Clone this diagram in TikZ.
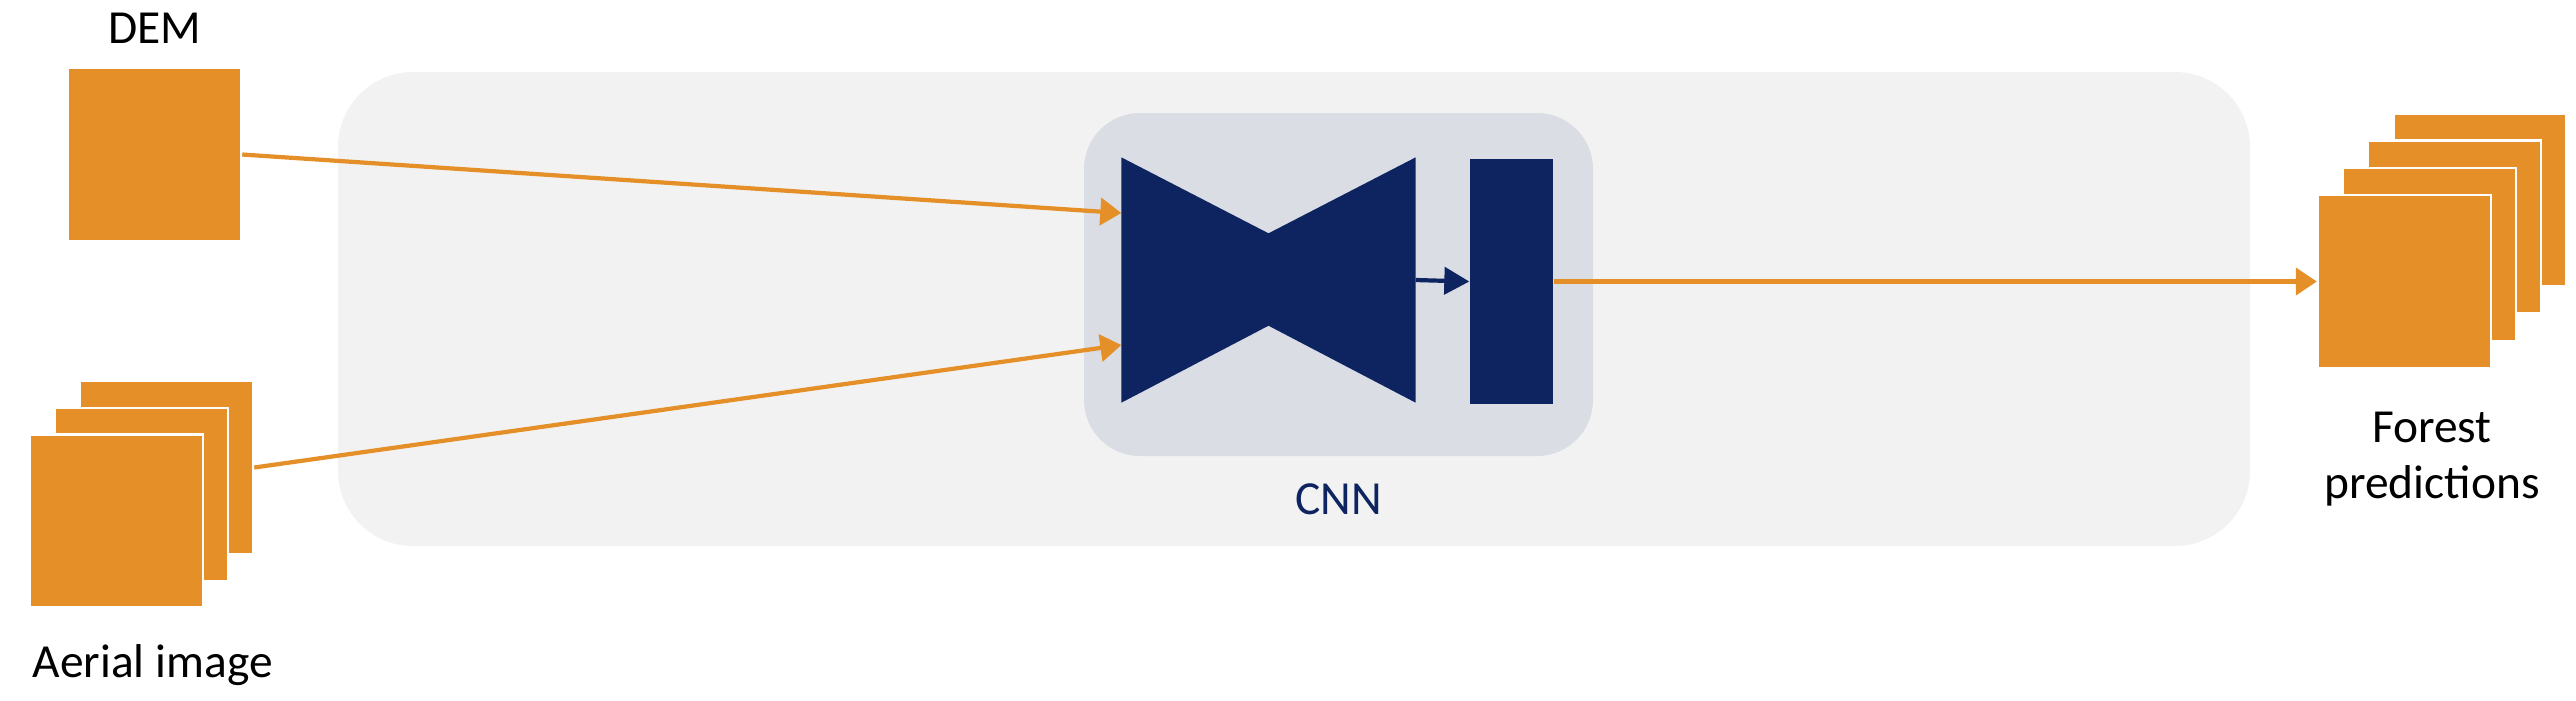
\documentclass[tikz,border=0pt]{standalone}
\usepackage{fontspec}
\setmainfont{Carlito}
\usepackage{tikz}
\usetikzlibrary{shapes, positioning, arrows.meta, calc}
\definecolor{tileColor}{HTML}{E48F27}
\definecolor{netColor}{HTML}{0D2461}
\definecolor{panelColor}{HTML}{F2F2F2}
\definecolor{cnnColor}{HTML}{DADDE4}
\tikzstyle{panel}=[rectangle, rounded corners=0.75cm, fill=panelColor, inner sep=0pt]
\tikzstyle{cnnPanel}=[rectangle, rounded corners=0.56cm, fill=cnnColor, inner sep=0pt]
\tikzstyle{tile}=[rectangle, fill=tileColor, draw=white, line width=0.7pt,
minimum width=1.73cm, minimum height=1.73cm, inner sep=0pt]
\tikzstyle{block}=[rectangle, fill=netColor, inner sep=0pt]
\tikzstyle{lbl}=[align=center, inner sep=0pt, font=\fontsize{13.5}{15.9}\selectfont]
\tikzstyle{arrow}=[-{Triangle[length=0.21cm, width=0.27cm]}, line width=1.2pt, draw=tileColor]
\tikzstyle{netArrow}=[-{Triangle[length=0.25cm, width=0.27cm]}, line width=1.2pt, draw=netColor]

\begin{document}
\begin{tikzpicture}[node distance=5mm]
      \useasboundingbox (0,0) rectangle (25.76,-7.00);
      % background panels
      \node(pipeline) [panel, minimum width=19.12cm, minimum height=4.74cm] at (12.94,-3.09) {};
      \node(cnnbox) [cnnPanel, minimum width=5.09cm, minimum height=3.43cm] at (13.385,-2.845) {};
      \node(cnnLabel) [lbl, text=netColor, below=0.26cm of cnnbox] {CNN};
      % inputs
      \node(dem) [tile] at (1.545,-1.545) {};
      \node(demLabel) [lbl, above=0.23cm of dem] {DEM};
      \node(aerial3) [tile] at (1.665,-4.675) {};
      \node(aerial2) [tile] at (1.415,-4.945) {};
      \node(aerial1) [tile] at (1.165,-5.21) {};
      \node(aerialLabel) [lbl, anchor=base west] at (0.32,-6.77) {Aerial image};
      % network
      \node(encdec) [minimum width=2.93cm, minimum height=2.44cm, inner sep=0pt] at (12.685,-2.80) {};
      \fill [netColor] (encdec.north west) -- ($ (encdec.north) + (0,-0.76) $)
        -- (encdec.north east) -- (encdec.south east)
        -- ($ (encdec.south) + (0,0.77) $) -- (encdec.south west) -- cycle;
      \node(head) [block, minimum width=0.83cm, minimum height=2.45cm] at (15.115,-2.815) {};
      \draw [netArrow] (encdec.east) -- (head.west);
      \coordinate (inTop) at ($ (encdec.west) + (0,0.67) $);
      \coordinate (inBottom) at ($ (encdec.west) + (0,-0.65) $);
      \draw [arrow] (dem.east) -- (inTop);
      \draw [arrow] (aerial3.east) -- (inBottom);
      % outputs
      \node(forest4) [tile] at (24.80,-2.00) {};
      \node(forest3) [tile] at (24.545,-2.27) {};
      \node(forest2) [tile] at (24.295,-2.545) {};
      \node(forest1) [tile] at (24.045,-2.815) {};
      \node(forestLabel) [lbl, anchor=base] at (24.32,-4.98) {Forest\\predictions};
      \draw [arrow] (head.east) -- (forest1.west);
\end{tikzpicture}
\end{document}
